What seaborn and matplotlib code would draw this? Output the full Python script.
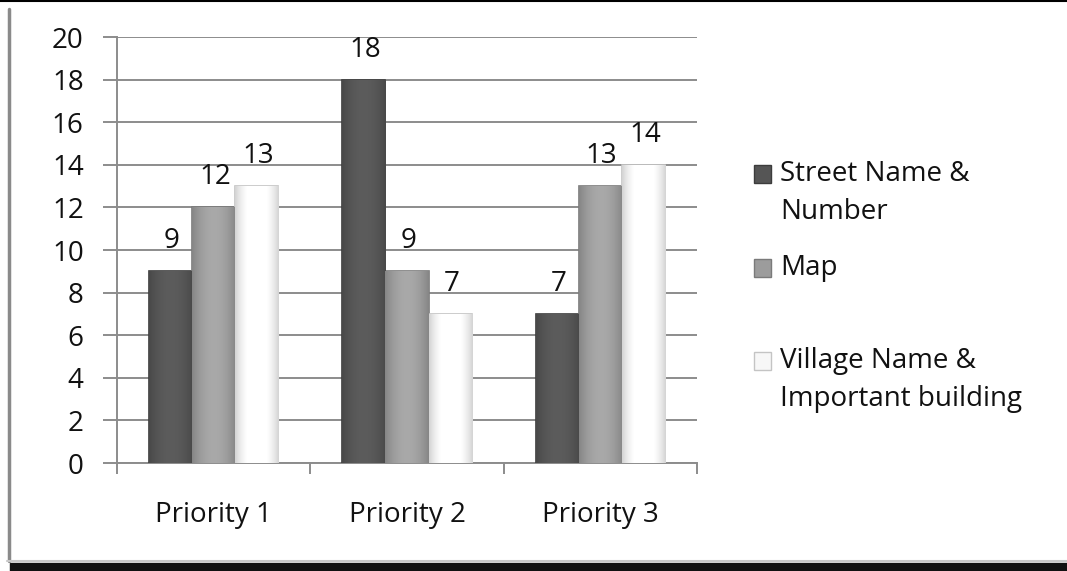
import numpy as np
import pandas as pd
import matplotlib
matplotlib.use("Agg")
import matplotlib.pyplot as plt
from matplotlib.lines import Line2D
from matplotlib.patches import Rectangle, Patch
from matplotlib.legend_handler import HandlerPatch
from matplotlib.colors import to_rgb
import seaborn as sns

# data
priorities = ["Priority 1", "Priority 2", "Priority 3"]
series = ["Street Name &\nNumber", "Map\n", "Village Name &\nImportant building"]
street_vals = [9, 18, 7]
map_vals = [12, 9, 13]
village_vals = [13, 7, 14]
colors = ["#555555", "#9c9c9c", "#f7f7f7"]
edge_colors = ["#3c3c3c", "#7a7a7a", "#c4c4c4"]

df = pd.DataFrame({
    "priority": priorities * 3,
    "series": [series[0]] * 3 + [series[1]] * 3 + [series[2]] * 3,
    "count": street_vals + map_vals + village_vals,
})

sns.set_style("white")
plt.rcParams["font.family"] = ["Open Sans", "DejaVu Sans"]
txt = "#111111"
fs = 20

fig = plt.figure(figsize=(10.67, 5.71), dpi=100)
ax = fig.add_axes([0.1097, 0.1891, 0.5435, 0.7461])

sns.barplot(data=df, x="priority", y="count", hue="series", hue_order=series,
            palette=colors, saturation=1, width=0.67, ax=ax, legend=False,
            linewidth=1.2, zorder=3)

# edge colours + cylinder-like shading
for container, ec, fc in zip(ax.containers, edge_colors, colors):
    base = np.array(to_rgb(fc))
    for p in container.patches:
        p.set_edgecolor(ec)
        x0, y0 = p.get_xy()
        w, h = p.get_width(), p.get_height()
        t = np.linspace(-1, 1, 60)
        f = 1.08 - 0.22 * t ** 2
        grad = np.clip(base[None, :] * f[:, None], 0, 1)[None, :, :]
        im = ax.imshow(grad, extent=[x0, x0 + w, y0, y0 + h], aspect="auto",
                       zorder=3.5, interpolation="bilinear")
        im.set_clip_path(p)

# value labels
for container, vals in zip(ax.containers, [street_vals, map_vals, village_vals]):
    for p, v in zip(container.patches, vals):
        ax.annotate(str(v), (p.get_x() + p.get_width() / 2, p.get_height()),
                    xytext=(1, 11.5), textcoords="offset points",
                    ha="center", va="bottom", fontsize=fs, color=txt)

ax.set_xlim(-0.5, 2.5)
ax.set_ylim(0, 20)
ax.set_yticks(range(0, 21, 2))
ax.yaxis.grid(True, color="#8c8c8c", linewidth=1.4, zorder=0)
ax.set_axisbelow(True)
ax.set_xlabel("")
ax.set_ylabel("")

for s in ["top", "right"]:
    ax.spines[s].set_visible(False)
for s in ["left", "bottom"]:
    ax.spines[s].set_color("#8c8c8c")
    ax.spines[s].set_linewidth(1.4)

ax.tick_params(axis="y", length=10, width=1.4, color="#8c8c8c", pad=14,
               labelsize=fs, labelcolor=txt, left=True)
ax.tick_params(axis="x", which="major", length=0, pad=27, labelsize=fs,
               labelcolor=txt)
ax.set_xticks([-0.5, 0.5, 1.5, 2.5], minor=True)
ax.tick_params(axis="x", which="minor", length=8, width=1.4, color="#8c8c8c",
               bottom=True)


# legend: square sits beside the first line of each label
def top_square(legend, orig_handle, xdescent, ydescent, width, height, fontsize):
    return Rectangle((-xdescent, -ydescent + 14.2), width, height)


handles = [Patch(facecolor=c, edgecolor=e) for c, e in zip(colors, edge_colors)]
leg = fig.legend(handles, series, loc="upper left", bbox_to_anchor=(0.6832, 0.7635),
                 frameon=False, fontsize=fs, labelcolor=txt, handlelength=0.62,
                 handleheight=0.62, handletextpad=0.33, labelspacing=1.0,
                 handler_map={Patch: HandlerPatch(patch_func=top_square)})
for t in leg.get_texts():
    t.set_linespacing(1.47)

# outer frame
fig.add_artist(Line2D([0, 1], [0.998, 0.998], color="black", linewidth=1.5,
                      transform=fig.transFigure))
fig.add_artist(Line2D([0.0085, 0.0085], [0.018, 0.984], color="#8a8a8a",
                      linewidth=2.5, transform=fig.transFigure))
fig.add_artist(Line2D([0.007, 1], [0.018, 0.018], color="#c8c8c8",
                      linewidth=1.5, transform=fig.transFigure))
fig.add_artist(Rectangle((0.009, 0), 0.991, 0.0135, color="#111111",
                         transform=fig.transFigure))

fig.savefig("out.png", dpi=100)
plt.close(fig)
